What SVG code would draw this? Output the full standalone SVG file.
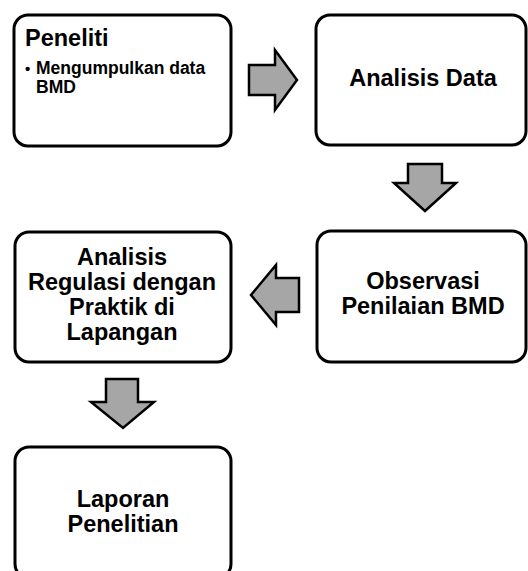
<svg xmlns="http://www.w3.org/2000/svg" width="528" height="571" viewBox="0 0 528 571">
<style>
.box{fill:#fff;stroke:#000;stroke-width:3}
.arr{fill:#a6a6a6;stroke:#000;stroke-width:2.5;stroke-linejoin:miter}
.t{font-family:"Liberation Sans",Arial,sans-serif;font-weight:bold;fill:#000}
.c{text-anchor:middle;font-size:23.5px}
</style>
<rect width="528" height="571" fill="#fff"/>
<g id="connectors">
<polygon class="arr" points="249,65 275,65 275,50 297,80 275,110 275,95 249,95"/>
<polygon class="arr" points="408,164 442,164 442,183 456,183 425,211 394,183 408,183"/>
<polygon class="arr" points="299,278 276,278 276,265 251,295 276,325 276,312 299,312"/>
<polygon class="arr" points="106,379 138,379 138,402 154,402 123,428 91,402 106,402"/>
</g>
<g id="n1">
<rect class="box" x="14" y="15" width="217" height="131" rx="14"/>
<text class="t" x="25" y="46" font-size="23.5">Peneliti</text>
<text class="t" x="25" y="74" font-size="15">•</text>
<text class="t" x="36" y="74" font-size="17.5">Mengumpulkan data</text>
<text class="t" x="36" y="93" font-size="17.5">BMD</text>
</g>
<g id="n2">
<rect class="box" x="316" y="15" width="210" height="130" rx="14"/>
<text class="t c" x="423" y="86">Analisis Data</text>
</g>
<g id="n3">
<rect class="box" x="317" y="231" width="209" height="131" rx="14"/>
<text class="t c" x="423" y="289">Observasi</text>
<text class="t c" x="423" y="314">Penilaian BMD</text>
</g>
<g id="n4">
<rect class="box" x="15" y="232" width="216" height="130" rx="14"/>
<text class="t c" x="122" y="265">Analisis</text>
<text class="t c" x="122" y="290">Regulasi dengan</text>
<text class="t c" x="122" y="315">Praktik di</text>
<text class="t c" x="122" y="340">Lapangan</text>
</g>
<g id="n5">
<rect class="box" x="15" y="447" width="216" height="131" rx="14"/>
<text class="t c" x="123" y="507">Laporan</text>
<text class="t c" x="123" y="532">Penelitian</text>
</g>
</svg>
